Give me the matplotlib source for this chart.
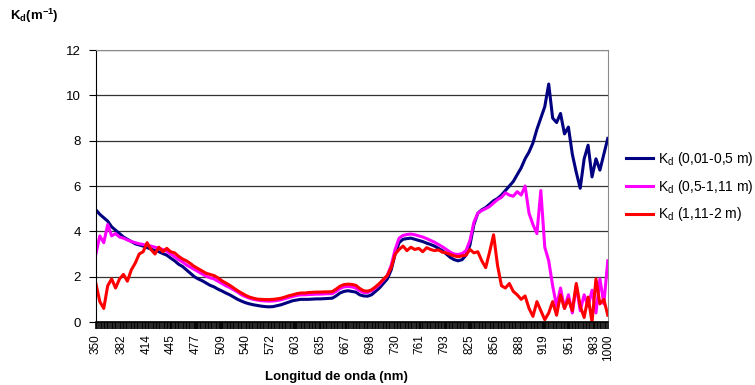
import numpy as np
import matplotlib.pyplot as plt
from matplotlib.ticker import MultipleLocator

plt.rcParams['font.family'] = ['Liberation Sans', 'DejaVu Sans']
plt.rcParams['mathtext.default'] = 'regular'

# wavelength grid (nm), 5 nm steps
wl = np.arange(350, 1001, 5)

# Kd (0,01-0,5 m)
kd1 = [4.95, 4.75, 4.6, 4.45, 4.2, 4.05, 3.9, 3.75, 3.65, 3.55,
       3.45, 3.4, 3.35, 3.28, 3.22, 3.15, 3.1, 3.02, 2.95, 2.82,
       2.7, 2.55, 2.45, 2.3, 2.15, 2.0, 1.9, 1.82, 1.72, 1.62,
       1.55, 1.45, 1.37, 1.28, 1.2, 1.1, 1.0, 0.92, 0.85, 0.8,
       0.76, 0.73, 0.7, 0.68, 0.67, 0.68, 0.72, 0.76, 0.82, 0.88,
       0.94, 0.97, 1.0, 1.0, 1.0, 1.01, 1.02, 1.02, 1.03, 1.04,
       1.05, 1.15, 1.28, 1.35, 1.38, 1.35, 1.32, 1.2, 1.15, 1.14,
       1.2, 1.35, 1.5, 1.7, 1.9, 2.3, 3.0, 3.5, 3.65, 3.68,
       3.7, 3.65, 3.6, 3.55, 3.48, 3.42, 3.35, 3.25, 3.15, 3.0,
       2.85, 2.75, 2.7, 2.75, 2.95, 3.4, 4.3, 4.8, 4.95, 5.05,
       5.2, 5.35, 5.45, 5.6, 5.8, 6.0, 6.2, 6.5, 6.8, 7.2,
       7.5, 7.9, 8.5, 9.0, 9.5, 10.5, 9.0, 8.8, 9.2, 8.3,
       8.6, 7.4, 6.6, 5.9, 7.2, 7.8, 6.4, 7.2, 6.7, 7.4,
       8.1]

# Kd (0,5-1,11 m)
kd2 = [3.0, 3.8, 3.5, 4.3, 3.8, 3.9, 3.75, 3.7, 3.62, 3.55,
       3.5, 3.45, 3.42, 3.38, 3.35, 3.3, 3.25, 3.2, 3.12, 3.0,
       2.88, 2.75, 2.65, 2.52, 2.42, 2.32, 2.22, 2.12, 2.02, 1.95,
       1.9, 1.8, 1.7, 1.6, 1.52, 1.42, 1.32, 1.2, 1.12, 1.05,
       1.0, 0.97, 0.94, 0.93, 0.92, 0.93, 0.95, 0.98, 1.03, 1.08,
       1.13, 1.17, 1.2, 1.2, 1.21, 1.22, 1.23, 1.23, 1.24, 1.25,
       1.25, 1.35, 1.48, 1.55, 1.57, 1.55, 1.5, 1.38, 1.3, 1.3,
       1.38, 1.5, 1.65, 1.85, 2.05, 2.5, 3.2, 3.7, 3.82, 3.86,
       3.88, 3.85, 3.8, 3.75, 3.68, 3.6, 3.52, 3.42, 3.32, 3.2,
       3.08, 3.0, 2.98, 3.02, 3.15, 3.6, 4.4, 4.8, 4.92, 5.0,
       5.1, 5.25, 5.4, 5.5, 5.7, 5.6, 5.55, 5.75, 5.6, 6.0,
       4.8, 4.3, 3.9, 5.8, 3.3, 2.7, 1.6, 0.7, 1.5, 0.6,
       1.2, 0.4, 1.6, 0.5, 1.2, 0.7, 1.4, 0.4, 1.9, 0.8,
       2.7]

# Kd (1,11-2 m)
kd3 = [1.7, 0.9, 0.6, 1.6, 1.9, 1.5, 1.9, 2.1, 1.8, 2.3,
       2.6, 3.0, 3.1, 3.5, 3.2, 3.0, 3.3, 3.1, 3.25, 3.1,
       3.05, 2.9, 2.78, 2.7, 2.58, 2.45, 2.35, 2.25, 2.15, 2.1,
       2.05, 1.95, 1.82, 1.72, 1.62, 1.5, 1.38, 1.28, 1.18, 1.1,
       1.05, 1.01, 1.0, 0.99, 0.99, 1.0, 1.02, 1.05, 1.1, 1.16,
       1.2, 1.25, 1.28, 1.28, 1.3, 1.31, 1.32, 1.32, 1.33, 1.33,
       1.34, 1.45, 1.58, 1.65, 1.67, 1.66, 1.62, 1.48, 1.38, 1.36,
       1.42, 1.55, 1.7, 1.88, 2.05, 2.4, 3.0, 3.2, 3.35, 3.15,
       3.3, 3.2, 3.25, 3.1, 3.28, 3.2, 3.15, 3.18, 3.08, 3.05,
       2.98, 2.92, 2.88, 2.92, 2.95, 3.2, 3.05, 3.1, 2.7, 2.4,
       3.1, 3.85, 2.5, 1.6, 1.5, 1.7, 1.35, 1.2, 1.0, 1.15,
       0.6, 0.25, 0.9, 0.5, 0.1, 0.4, 0.9, 0.3, 1.2, 0.6,
       1.0, 0.5, 1.7, 0.7, 0.2, 1.1, 0.0, 1.9, 0.8, 1.0,
       0.3]

xtick_vals = [350, 382, 414, 445, 477, 509, 540, 572, 603, 635, 667,
              698, 730, 761, 793, 825, 856, 888, 919, 951, 983, 1000]

labels = ['K$_d$ (0,01-0,5 m)', 'K$_d$ (0,5-1,11 m)', 'K$_d$ (1,11-2 m)']
colors = ['#000080', '#ff00ff', '#ff0000']

fig = plt.figure(figsize=(7.55, 3.85), dpi=100)
ax = fig.add_axes([0.127, 0.1636, 0.678, 0.7065])

for y, lab, c in zip([kd1, kd2, kd3], labels, colors):
    ax.plot(wl, y, color=c, lw=2.2, label=lab)

ax.set_xlim(350, 1000)
ax.set_ylim(0, 12)
ax.yaxis.set_major_locator(MultipleLocator(2))
ax.grid(axis='y', color='#333333', lw=0.9)
ax.set_axisbelow(True)

ax.set_xticks(xtick_vals)
ax.set_xticklabels([str(v) for v in xtick_vals], rotation=90, fontsize=8.5)
ax.xaxis.set_minor_locator(MultipleLocator(2))
ax.tick_params(axis='x', which='major', length=5, width=1.2, pad=4)
ax.tick_params(axis='x', which='minor', length=5, width=1.2)
ax.tick_params(axis='y', length=5, labelsize=9.5, pad=6)

for s in ['top', 'right']:
    ax.spines[s].set_color('#8c8c8c')
ax.spines['bottom'].set_linewidth(1.2)

fig.text(0.013, 0.96, 'K$_d$(m$^{-1}$)', fontsize=9.5, fontweight='bold',
         ha='left', va='center')
fig.text(0.445, 0.02, 'Longitud de onda (nm)', fontsize=9.5,
         fontweight='bold', ha='center', va='center')

ax.legend(loc='center left', bbox_to_anchor=(0.822, 0.515),
          bbox_transform=fig.transFigure, frameon=False, fontsize=10,
          handlelength=1.9, handletextpad=0.4, labelspacing=0.7,
          borderaxespad=0)

fig.savefig('out.png', dpi=100)
